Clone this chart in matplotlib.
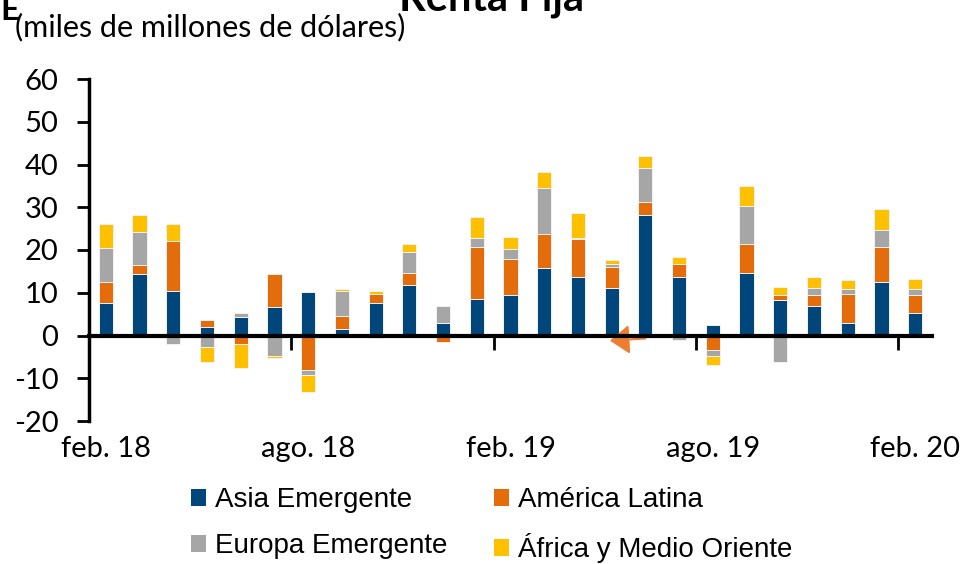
import numpy as np
import matplotlib
matplotlib.use('Agg')
import matplotlib.pyplot as plt
from matplotlib.patches import Patch

plt.rcParams['axes.unicode_minus'] = False

months = ['feb. 18', 'mar. 18', 'abr. 18', 'may. 18', 'jun. 18', 'jul. 18',
          'ago. 18', 'sep. 18', 'oct. 18', 'nov. 18', 'dic. 18', 'ene. 19',
          'feb. 19', 'mar. 19', 'abr. 19', 'may. 19', 'jun. 19', 'jul. 19',
          'ago. 19', 'sep. 19', 'oct. 19', 'nov. 19', 'dic. 19', 'ene. 20',
          'feb. 20']

asia = [7.7, 14.3, 10.3, 2.1, 4.3, 6.6, 10.1, 1.5, 7.5, 11.9, 2.9, 8.6, 9.5,
        15.7, 13.8, 11.2, 28.2, 13.8, 2.5, 14.7, 8.4, 6.8, 2.9, 12.4, 5.2]
latam = [4.7, 2.3, 11.9, 1.6, -1.9, 7.8, -8.0, 3.0, 2.1, 2.8, -1.6, 12.0, 8.3,
         8.1, 8.7, 4.9, 3.0, 3.0, -3.3, 6.8, 1.0, 2.7, 6.7, 8.3, 4.3]
europa = [8.1, 7.6, -1.9, -2.7, 1.0, -4.8, -1.3, 5.9, -0.5, 4.9, 4.0, 2.1, 2.4,
          10.7, 0.2, 0.7, 7.9, -1.0, -1.4, 8.8, -6.3, 1.6, 1.3, 3.9, 1.4]
africa = [5.5, 4.0, 3.8, -3.4, -5.8, -0.5, -4.0, 0.5, 0.7, 1.8, 0.0, 5.1, 2.8,
          3.7, 6.0, 0.9, 2.8, 1.6, -2.2, 4.6, 1.9, 2.6, 2.1, 5.1, 2.4]

series = [('Asia Emergente', asia, '#00467A'),
          ('América Latina', latam, '#E46C0A'),
          ('Europa Emergente', europa, '#A6A6A6'),
          ('África y Medio Oriente', africa, '#FFC000')]

fig = plt.figure(figsize=(9.66, 5.64), dpi=100)
ax = fig.add_axes([89/966, 1-421/564, (932-89)/966, (421-79)/564])

x = np.arange(len(months))
pos = np.zeros(len(months))
neg = np.zeros(len(months))
for name, vals, col in series:
    v = np.array(vals)
    bottom = np.where(v >= 0, pos, neg)
    ax.bar(x, v, width=0.42, bottom=bottom, color=col,
           edgecolor='#f2f2f2', linewidth=0.7, zorder=1)
    pos = pos + np.where(v >= 0, v, 0)
    neg = neg + np.where(v < 0, v, 0)

ax.set_xlim(-0.5, len(months) - 0.5)
ax.set_ylim(-20, 60)
ax.set_yticks(np.arange(-20, 61, 10))

tick_font = 'Lato'
for lab in ax.get_yticklabels():
    lab.set_fontfamily(tick_font)
ax.tick_params(axis='y', labelsize=21, length=9, width=2, pad=13)

for s in ['top', 'right']:
    ax.spines[s].set_visible(False)
ax.spines['left'].set_linewidth(2.5)
ax.spines['bottom'].set_position(('data', 0))
ax.spines['bottom'].set_linewidth(3)
ax.spines['bottom'].set_zorder(3)

# tick marks between groups of six months
ax.set_xticks(x[6::6] - 0.5)
ax.set_xticklabels([])
ax.tick_params(axis='x', length=10, width=2, direction='out')

sec = ax.secondary_xaxis('bottom')
sec.set_xticks(x[::6])
sec.set_xticklabels([months[i] for i in x[::6]], fontsize=21, fontfamily=tick_font)
sec.tick_params(length=0, pad=11)
sec.spines['bottom'].set_visible(False)

ax.annotate('', xy=(14.95, -1.2), xytext=(16.0, -0.7),
            arrowprops=dict(arrowstyle='-|>,head_length=0.6,head_width=0.45',
                            color='#ED7D31', lw=1.5, mutation_scale=20,
                            shrinkA=0, shrinkB=0))

fig.text(0.0, 1 - 20/564, 'E', fontsize=24, fontweight='bold',
         fontfamily=tick_font, ha='left', va='baseline')
fig.text(491/966, 1 - 10/564, 'Renta Fija', fontsize=30, fontweight='bold',
         fontfamily=tick_font, ha='center', va='baseline')
fig.text(15/966, 1 - 36/564, '(miles de millones de dólares)', fontsize=22,
         fontfamily=tick_font, ha='left', va='baseline')

# legend fills column-wise, so order the handles for row-wise reading
handles = [Patch(facecolor=c, edgecolor='none', label=n) for n, _, c in series]
handles = [handles[0], handles[2], handles[1], handles[3]]
fig.legend(handles=handles, ncol=2, loc='upper left',
           bbox_to_anchor=(191/966, 1 - 487/564), frameon=False,
           prop={'family': 'Liberation Sans', 'size': 20},
           handlelength=0.55, handleheight=0.55, handletextpad=0.3,
           columnspacing=1.7, labelspacing=0.72, borderpad=0, borderaxespad=0)

fig.savefig('out.png', dpi=100)
